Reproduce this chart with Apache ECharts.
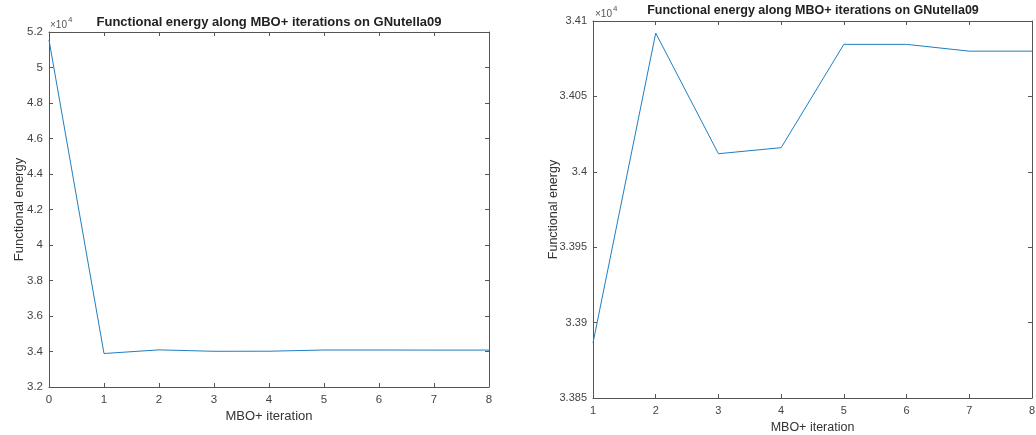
<!DOCTYPE html>
<html>
<head>
<meta charset="utf-8">
<script src="https://cdn.jsdelivr.net/npm/echarts@6/dist/echarts.min.js"></script>
<style>
  html, body { margin: 0; padding: 0; background: #fff; }
  #chart { width: 1036px; height: 435px; }
</style>
</head>
<body>
<div id="chart"></div>
<script>
// Functional energy per MBO+ iteration (GNutella09)
const iterationsAll = [0, 1, 2, 3, 4, 5, 6, 7, 8];
const energyAll = [51550, 33886.5, 34092, 34012, 34016, 34084.5, 34084.5, 34080, 34080];
// Zoomed view starts at iteration 1
const iterationsZoom = iterationsAll.slice(1);
const energyZoom = energyAll.slice(1);

const titleText = 'Functional energy along MBO+ iterations on GNutella09';
const xName = 'MBO+ iteration';
const yName = 'Functional energy';

const axisColor = '#555';
const labelColor = '#444';
const lineColor = '#1f7fc0';
const fontFamily = '"Liberation Sans", Arial, sans-serif';

function scaled(v) {
  return String(parseFloat((v / 1e4).toFixed(4)));
}

const chart = echarts.init(document.getElementById('chart'), null, { renderer: 'canvas' });

const grids = [
  { left: 49, top: 32, width: 440, height: 355, outerBoundsMode: 'none', containLabel: false },
  { left: 593, top: 21, width: 439, height: 377, outerBoundsMode: 'none', containLabel: false }
];

const xRanges = [
  { min: 0, max: 8, interval: 1 },
  { min: 1, max: 8, interval: 1 }
];
const yRanges = [
  { min: 32000, max: 52000, interval: 2000 },
  { min: 33850, max: 34100, interval: 50 }
];
const yNameGaps = [23, 33];
const xNameGaps = [23, 23];
const nameSizes = [13, 12.5];
const tickSizes = [11.5, 11];

const xAxes = [];
const yAxes = [];
[0, 1].forEach(function (g) {
  const xr = xRanges[g], yr = yRanges[g];
  // bottom axis with labels
  xAxes.push({
    type: 'value', gridIndex: g, position: 'bottom',
    min: xr.min, max: xr.max, interval: xr.interval,
    name: xName, nameLocation: 'middle', nameGap: xNameGaps[g], nameMoveOverlap: false,
    nameTextStyle: { color: '#333', fontSize: nameSizes[g], fontFamily: fontFamily },
    axisLine: { show: true, onZero: false, lineStyle: { color: axisColor, width: 1 } },
    axisTick: { show: true, inside: true, length: 4, lineStyle: { color: axisColor } },
    axisLabel: { color: labelColor, fontSize: tickSizes[g], fontFamily: fontFamily, margin: 7 },
    splitLine: { show: false }
  });
  // top axis: box edge with inward ticks
  xAxes.push({
    type: 'value', gridIndex: g, position: 'top',
    min: xr.min, max: xr.max, interval: xr.interval,
    axisLine: { show: true, onZero: false, lineStyle: { color: axisColor, width: 1 } },
    axisTick: { show: true, inside: true, length: 4, lineStyle: { color: axisColor } },
    axisLabel: { show: false },
    splitLine: { show: false }
  });
  yAxes.push({
    type: 'value', gridIndex: g, position: 'left',
    min: yr.min, max: yr.max, interval: yr.interval,
    name: yName, nameLocation: 'middle', nameGap: yNameGaps[g], nameMoveOverlap: false,
    nameTextStyle: { color: '#333', fontSize: nameSizes[g], fontFamily: fontFamily },
    axisLine: { show: true, onZero: false, lineStyle: { color: axisColor, width: 1 } },
    axisTick: { show: true, inside: true, length: 4, lineStyle: { color: axisColor } },
    axisLabel: { color: labelColor, fontSize: tickSizes[g], fontFamily: fontFamily, margin: 6, formatter: scaled },
    splitLine: { show: false }
  });
  yAxes.push({
    type: 'value', gridIndex: g, position: 'right',
    min: yr.min, max: yr.max, interval: yr.interval,
    axisLine: { show: true, onZero: false, lineStyle: { color: axisColor, width: 1 } },
    axisTick: { show: true, inside: true, length: 4, lineStyle: { color: axisColor } },
    axisLabel: { show: false },
    splitLine: { show: false }
  });
});

function pairs(xs, ys) {
  return xs.map(function (x, i) { return [x, ys[i]]; });
}

// exponent markers and titles drawn as text
function exponentMark(x, y) {
  return [
    { type: 'text', left: x, top: y, style: { text: '×10', fill: '#555', fontSize: 10, fontFamily: fontFamily } },
    { type: 'text', left: x + 18, top: y - 4, style: { text: '4', fill: '#555', fontSize: 8, fontFamily: fontFamily } }
  ];
}

const graphics = [
  { type: 'text', x: 269, y: 22, style: { text: titleText, fill: '#222', fontSize: 13, fontWeight: 'bold', fontFamily: fontFamily, align: 'center', verticalAlign: 'middle' } },
  { type: 'text', x: 813, y: 11, style: { text: titleText, fill: '#222', fontSize: 12.5, fontWeight: 'bold', fontFamily: fontFamily, align: 'center', verticalAlign: 'middle' } }
].concat(exponentMark(50, 20)).concat(exponentMark(595, 9));

chart.setOption({
  animation: false,
  backgroundColor: '#fff',
  grid: grids,
  xAxis: xAxes,
  yAxis: yAxes,
  graphic: graphics,
  series: [
    {
      type: 'line', xAxisIndex: 0, yAxisIndex: 0,
      data: pairs(iterationsAll, energyAll),
      showSymbol: false, symbol: 'none',
      lineStyle: { color: lineColor, width: 1 }
    },
    {
      type: 'line', xAxisIndex: 2, yAxisIndex: 2,
      data: pairs(iterationsZoom, energyZoom),
      showSymbol: false, symbol: 'none',
      lineStyle: { color: lineColor, width: 1 }
    }
  ]
});
</script>
</body>
</html>
